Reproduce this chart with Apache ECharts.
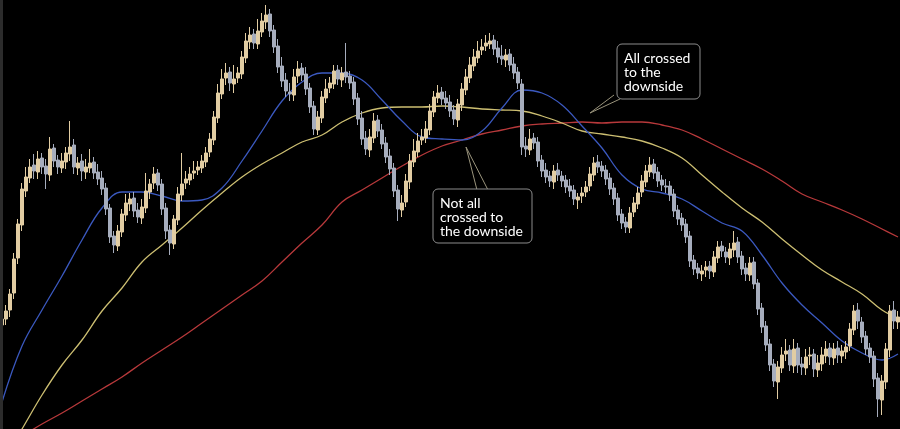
<!DOCTYPE html>
<html><head><meta charset="utf-8">
<script src="https://cdn.jsdelivr.net/npm/echarts@6/dist/echarts.min.js"></script>
<style>html,body{margin:0;padding:0;background:#000;}#c{width:900px;height:429px;}</style>
</head><body><div id="c"></div>
<script>
const opens = [
104,110,119,136,171,204,238,251,264,257, 271,263,254,281,269,261,267,275,284,261,
268,257,261,267,257,251,241,221,193,183, 197,214,225,231,219,211,221,237,246,256,
245,221,199,185,209,234,246,249,256,259, 261,267,277,289,311,335,351,357,345,351,
355,371,387,395,385,397,407,415,399,383, 363,349,337,334,353,361,355,341,323,299,
311,331,341,345,359,349,357,353,347,331, 311,291,279,291,309,299,286,273,261,239,
219,227,247,267,277,289,291,299,317,331, 337,331,327,319,309,324,339,351,363,371,
379,383,385,389,381,373,369,375,365,357, 345,283,279,291,287,269,259,253,247,259,
253,249,243,239,229,233,237,243,254,267, 263,259,251,241,231,215,207,201,217,225,
237,247,257,265,257,249,243,243,235,219, 211,205,193,169,161,155,159,163,157,171,
183,177,171,179,187,173,161,154,167,146, 121,103,85,65,47,61,75,79,63,81,
65,61,73,75,59,65,73,81,71,81, 73,77,83,99,119,107,93,81,73,51,
29,47,79,119,107];
const closes = [
110,118,135,170,205,240,252,262,258,270, 262,255,280,268,262,268,276,282,262,266,
258,262,266,256,250,240,220,192,184,198, 215,226,230,218,212,222,238,245,255,244,
220,198,186,210,235,245,250,255,258,262, 268,276,290,312,336,350,356,346,350,356,
372,388,394,386,398,408,414,398,382,362, 348,338,335,352,360,354,340,322,300,312,
332,340,346,358,350,356,352,346,330,310, 290,280,292,308,298,285,272,260,238,220,
226,248,268,278,288,292,300,318,332,336, 330,326,318,310,325,340,352,364,372,378,
382,386,388,380,372,370,374,364,356,346, 282,280,290,286,268,258,252,248,258,254,
248,242,238,230,232,236,242,255,266,262, 258,250,240,230,214,206,202,216,226,236,
248,258,264,256,248,244,242,234,218,210, 204,192,168,160,156,158,162,158,172,182,
178,172,180,186,172,160,155,166,145,120, 102,84,64,48,62,74,78,64,80,64,
62,72,74,60,66,74,80,72,80,74, 78,82,100,118,108,92,80,72,50,30,
48,80,118,108,112];
const lows = [
98,104,112,130,165,198,232,246,250,250, 255,240,248,262,255,256,260,268,255,254,
248,250,256,250,244,234,214,186,176,178, 192,208,218,212,206,205,216,230,240,238,
214,190,174,180,204,228,240,244,250,254, 256,262,272,284,306,330,344,338,336,346,
350,366,380,380,380,392,400,392,376,356, 342,332,328,328,346,348,334,316,294,294,
306,326,336,340,344,342,346,340,324,304, 284,274,272,286,292,280,266,254,232,208,
212,222,240,262,272,284,286,294,312,326, 324,320,312,304,302,318,334,346,358,366,
374,378,380,374,366,364,362,358,350,340, 274,272,274,280,262,252,246,242,240,248,
242,236,232,224,220,226,232,238,248,256, 252,244,234,224,208,200,196,196,212,220,
232,242,252,250,242,238,236,228,212,204, 198,186,162,154,150,148,152,150,152,166,
172,166,164,172,166,154,148,148,140,114, 96,78,58,42,30,56,68,58,56,56,
54,54,64,52,52,58,66,64,64,66, 66,70,78,94,100,86,74,66,42,12,
14,40,72,100,100];
const highs = [
116,124,140,176,210,246,262,270,275,278, 276,270,292,285,274,276,282,308,290,272,
275,270,280,272,265,258,246,225,198,204, 220,235,236,237,226,230,256,250,262,260,
250,226,204,214,242,276,258,262,268,268, 274,282,296,318,345,360,366,362,364,362,
378,396,402,400,410,416,424,420,404,390, 372,356,346,360,368,366,362,346,328,318,
338,350,352,364,364,362,386,358,352,336, 318,298,300,316,314,305,292,280,266,244,
234,255,275,290,296,300,308,325,338,344, 342,338,334,324,330,346,360,372,380,388,
390,394,396,394,388,384,380,380,372,362, 350,292,300,296,292,274,266,258,264,266,
258,254,250,244,236,242,248,262,272,274, 268,264,256,246,236,220,212,222,232,242,
254,264,272,270,262,254,250,248,240,224, 216,210,198,174,166,164,168,168,178,188,
188,182,186,198,192,178,166,172,172,150, 126,108,90,70,68,82,90,84,90,86,
72,80,82,80,74,82,88,86,86,88, 84,88,106,124,126,112,98,86,78,56,
54,86,124,128,118];

const maIdx = [0,5,10,15,20,25,30,35,40,45,50,55,60,65,70,75,80,85,90,95,100,105,110,115,120,125,130,135,140,145,150,155,160,165,170,175,180,185,190,195,200,205,210,215,220,224];
const maFast = [27,83,119,153,189,221,237,237,233,228,229,241,268,298,328,347,356,356,349,329,308,292,290,289,298,321,339,336,324,303,281,254,240,236,230,218,206,198,174,146,124,106,88,76,69,75];
const maMid = [-33,0,34,64,89,118,141,167,184,201,219,236,252,265,276,287,294,307,316,321,322,322,323,322,320,319,318,313,306,298,295,292,288,281,271,254,237,221,207,190,174,159,147,135,119,111];
const maSlow = [-18,-7,5,16,28,40,52,66,79,92,106,120,134,148,167,186,204,227,239,251,263,274,283,289,295,299,303,305,306,307,306,307,307,304,299,290,280,270,260,248,235,227,219,210,200,192];

const cats = opens.map((_, i) => i);
const candles = opens.map((o, i) => [o, closes[i], lows[i], highs[i]]);
const pairs = arr => maIdx.map((x, i) => [x, arr[i]]);

const chart = echarts.init(document.getElementById('c'), null, {renderer: 'canvas'});
const lineStyleBase = {width: 1.3};
const font = 'Lato, "Open Sans", sans-serif';
chart.setOption({
  backgroundColor: '#000',
  animation: false,
  grid: {left: 0, right: 0, top: 0, bottom: 0},
  xAxis: [
    {type: 'category', data: cats, show: false, boundaryGap: true},
    {type: 'value', min: -0.5, max: cats.length - 0.5, show: false}
  ],
  yAxis: {type: 'value', min: 0, max: 429, show: false, splitLine: {show: false}},
  series: [
    {type: 'line', xAxisIndex: 1, data: pairs(maSlow), smooth: 0.4, showSymbol: false, clip: true,
     lineStyle: Object.assign({color: '#b8393b'}, lineStyleBase), z: 1},
    {type: 'line', xAxisIndex: 1, data: pairs(maMid), smooth: 0.4, showSymbol: false, clip: true,
     lineStyle: Object.assign({color: '#cdbf72'}, lineStyleBase), z: 1},
    {type: 'line', xAxisIndex: 1, data: pairs(maFast), smooth: 0.4, showSymbol: false, clip: true,
     lineStyle: Object.assign({color: '#3b59c0'}, lineStyleBase), z: 1},
    {type: 'candlestick', data: candles, barWidth: 2.6, z: 3,
     itemStyle: {color: '#e2cda3', color0: '#a6adbd', borderColor: '#e2cda3', borderColor0: '#a6adbd', borderWidth: 1}}
  ],
  graphic: [
    {type: 'rect', left: 0, top: 0, shape: {width: 3, height: 429}, style: {fill: '#2c2c2c'}, z: 10},
    {type: 'polyline', shape: {points: [[614, 95], [590, 113], [620, 99]]}, style: {stroke: '#9a947c', lineWidth: 1, fill: null}, z: 10},
    {type: 'rect', shape: {x: 617, y: 44, width: 83, height: 55, r: 5}, style: {fill: '#000', stroke: '#8c8c8c', lineWidth: 1}, z: 11},
    {type: 'text', x: 624, y: 51, style: {text: 'All crossed\nto the\ndownside', fill: '#fff', font: '14px ' + font, lineHeight: 14}, z: 12},
    {type: 'polyline', shape: {points: [[477, 190], [466, 147], [488, 190]]}, style: {stroke: '#9a947c', lineWidth: 1, fill: null}, z: 10},
    {type: 'rect', shape: {x: 433, y: 189, width: 99, height: 54, r: 5}, style: {fill: '#000', stroke: '#8c8c8c', lineWidth: 1}, z: 11},
    {type: 'text', x: 440, y: 196, style: {text: 'Not all\ncrossed to\nthe downside', fill: '#fff', font: '14px ' + font, lineHeight: 14}, z: 12}
  ]
});
</script>
</body></html>
